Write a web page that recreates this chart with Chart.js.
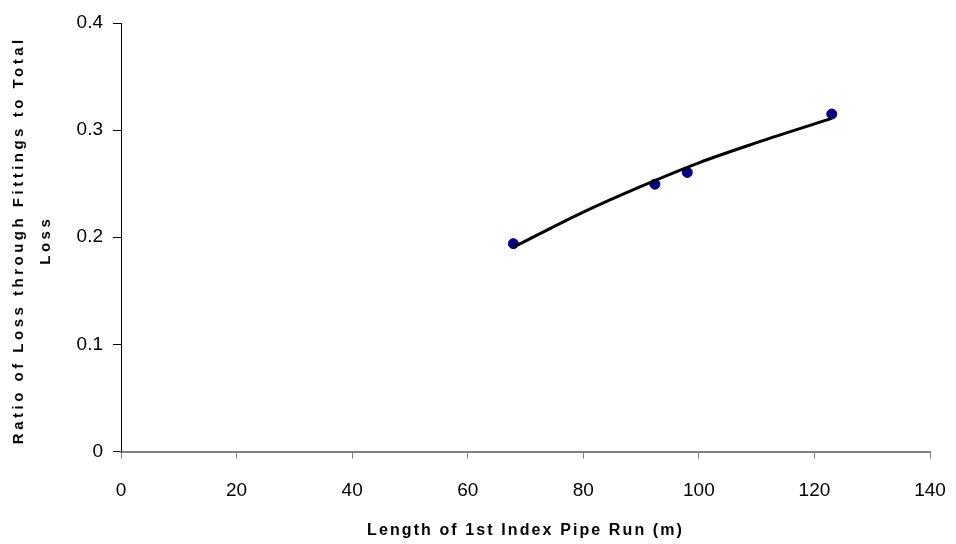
<!DOCTYPE html>
<html>
<head>
<meta charset="utf-8">
<script src="https://cdn.jsdelivr.net/npm/chart.js@4.4.0/dist/chart.umd.min.js"></script>
<style>
  html, body { margin: 0; padding: 0; background: #fff; }
  #wrap { width: 956px; height: 544px; }
</style>
</head>
<body>
<div id="wrap"><canvas id="myChart"></canvas></div>
<script>
const ctx = document.getElementById('myChart');

// measured runs
const lengths = [67.9, 92.4, 98.0, 123.0];
const ratios = [0.194, 0.2495, 0.2605, 0.315];

// fitted trend line
const trendLengths = [68, 80, 90, 100, 110, 123];
const trendRatios = [0.191, 0.2235, 0.2475, 0.2695, 0.2883, 0.311];

const xTitle = 'Length of 1st Index Pipe Run (m)';
const yTitle = ['Ratio of Loss through Fittings to Total', 'Loss'];

const points = lengths.map((x, i) => ({ x: x, y: ratios[i] }));
const trend = trendLengths.map((x, i) => ({ x: x, y: trendRatios[i] }));

// axis titles drawn by hand so they can be letter-spaced
const axisTitles = {
    id: 'axisTitles',
    afterDraw(chart) {
        const c = chart.ctx;
        const area = chart.chartArea;
        c.save();
        c.fillStyle = '#000';
        c.textAlign = 'center';
        c.textBaseline = 'middle';

        c.font = 'bold 16px "Liberation Sans", Arial, sans-serif';
        c.letterSpacing = '2.1px';
        c.fillText(xTitle, (area.left + area.right) / 2, chart.height - 13);

        c.font = 'bold 15px "Liberation Sans", Arial, sans-serif';
        c.letterSpacing = '3.5px';
        c.translate(19, (area.top + area.bottom) / 2 + 3);
        c.rotate(-Math.PI / 2);
        yTitle.forEach((line, i) => c.fillText(line, 0, i * 27));
        c.restore();
    }
};

const myChart = new Chart(ctx, {
    type: 'scatter',
    data: {
        datasets: [{
            type: 'line',
            label: 'Trend',
            data: trend,
            borderColor: '#000',
            borderWidth: 3,
            pointRadius: 0,
            fill: false,
            cubicInterpolationMode: 'monotone',
            order: 0
        }, {
            label: 'Ratio',
            data: points,
            backgroundColor: '#000080',
            borderColor: '#000080',
            pointRadius: 5,
            pointHoverRadius: 5,
            order: 1
        }]
    },
    options: {
        responsive: true,
        maintainAspectRatio: false,
        animation: false,
        layout: { padding: { top: 23, right: 26, left: 0, bottom: 0 } },
        plugins: {
            legend: { display: false },
            tooltip: { enabled: false }
        },
        scales: {
            x: {
                type: 'linear',
                min: 0,
                max: 140,
                ticks: {
                    stepSize: 20,
                    color: '#000',
                    padding: 21,
                    font: { family: '"Liberation Sans", Arial, sans-serif', size: 19 }
                },
                grid: {
                    drawOnChartArea: false,
                    tickLength: 7,
                    color: '#808080'
                },
                border: { color: '#808080', width: 2 },
                afterFit(scale) {
                    scale.height = 92.5;
                    scale.paddingLeft = 0;
                    scale.paddingRight = 0;
                }
            },
            y: {
                type: 'linear',
                min: 0,
                max: 0.4,
                ticks: {
                    stepSize: 0.1,
                    color: '#000',
                    padding: 10,
                    font: { family: '"Liberation Sans", Arial, sans-serif', size: 19 }
                },
                grid: {
                    drawOnChartArea: false,
                    tickLength: 8,
                    color: '#000'
                },
                border: { color: '#000', width: 1 },
                afterFit(scale) { scale.width = 121; }
            }
        }
    },
    plugins: [axisTitles]
});
</script>
</body>
</html>
